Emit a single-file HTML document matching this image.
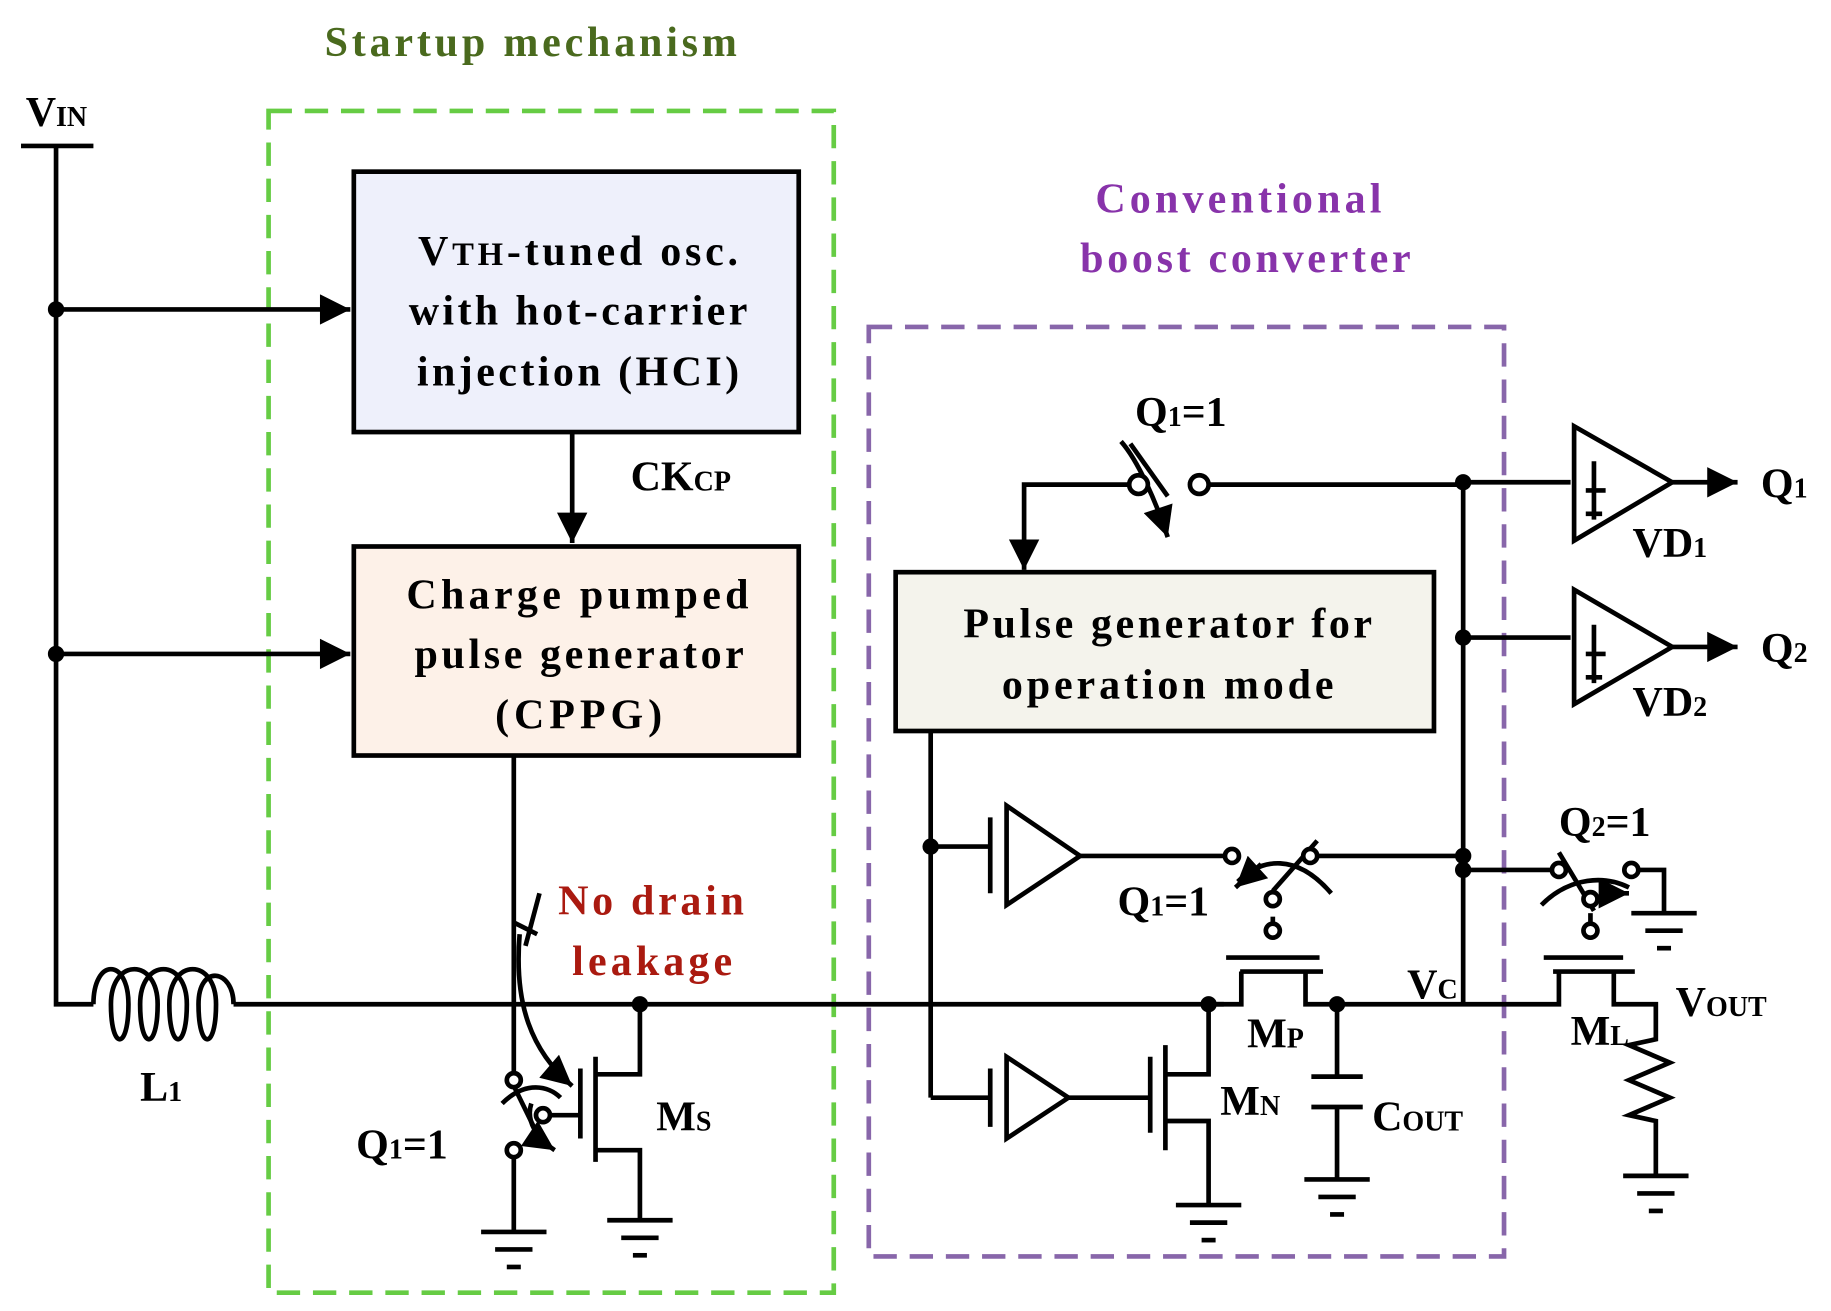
<!DOCTYPE html>
<html><head><meta charset="utf-8"><style>html,body{margin:0;padding:0;background:#fff}svg{display:block}</style></head><body>
<svg width="1831" height="1311" viewBox="0 0 1568 1122.7" preserveAspectRatio="none" xmlns="http://www.w3.org/2000/svg" font-family="Liberation Serif, serif" font-weight="bold">
<defs>
<marker id="b" viewBox="0 0 10 10" markerWidth="30" markerHeight="26" refX="10" refY="5" orient="auto" markerUnits="userSpaceOnUse"><path d="M0,0 L10,5 L0,10z" fill="#000"/></marker>
<g id="g" fill="none" stroke="#000" stroke-width="4"><line x1="-28" y1="0" x2="28" y2="0"/><line x1="-16" y1="15" x2="16" y2="15"/><line x1="-6" y1="30" x2="6" y2="30"/></g>
</defs>
<g fill="none" stroke="#000" stroke-width="4">
<rect x="230" y="95" width="484" height="1012" stroke="#66cc44" stroke-dasharray="20 11"/>
<rect x="744" y="280" width="544" height="796" stroke="#8866aa" stroke-dasharray="20 11"/>
<line x1="18" y1="125" x2="80" y2="125"/>
<polyline points="48,125 48,860 80,860"/>
<line x1="48" y1="265" x2="300" y2="265" marker-end="url(#b)"/>
<line x1="48" y1="560" x2="300" y2="560" marker-end="url(#b)"/>
<rect x="303" y="147" width="381" height="223" fill="#eef0fb"/>
<rect x="303" y="468" width="381" height="179" fill="#fdf1e8"/>
<rect x="767" y="490" width="461" height="136" fill="#f4f3ec"/>
<line x1="490" y1="370" x2="490" y2="465" marker-end="url(#b)"/>
<path d="M80,860 C80,820 110,820 110,860 C110,900 95,900 95,860 C95,820 135,820 135,860 C135,900 120,900 120,860 C120,820 160,820 160,860 C160,900 145,900 145,860 C145,820 185,820 185,860 C185,900 170,900 170,860 C170,825 200,830 200,860"/>
<line x1="200" y1="860" x2="1048" y2="860"/>
<line x1="440" y1="647" x2="440" y2="920"/>
<path d="M462,765 L450,810 M440,790 L460,800"/>
<path d="M445,800 C440,860 455,900 490,930" marker-end="url(#b)"/>
<line x1="497" y1="915" x2="497" y2="975"/>
<line x1="510" y1="905" x2="510" y2="995"/>
<polyline points="510,920 548,920 548,860"/>
<polyline points="510,985 548,985 548,1045"/>
<line x1="470" y1="955" x2="497" y2="955"/>
<line x1="440" y1="930" x2="462" y2="975"/>
<path d="M430,945 C450,925 470,930 480,940"/>
<path d="M455,945 C450,960 460,975 475,985" marker-end="url(#b)"/>
<line x1="440" y1="990" x2="440" y2="1055"/>
<polyline points="975,415 877,415 877,488" marker-end="url(#b)"/>
<line x1="1027" y1="415" x2="1253" y2="415"/>
<line x1="968" y1="380" x2="1000" y2="425"/>
<path d="M960,378 C975,395 990,430 1000,460" marker-end="url(#b)"/>
<line x1="1253" y1="415" x2="1253" y2="860"/>
<line x1="1253" y1="413" x2="1345" y2="413"/>
<line x1="1253" y1="546" x2="1345" y2="546"/>
<polygon points="1348,365 1348,463 1432,413"/>
<polygon points="1348,505 1348,603 1432,554"/>
<path d="M1365,395 V445 M1358,420 H1375 M1358,440 H1372 M1365,535 V585 M1358,560 H1375 M1358,580 H1372"/>
<line x1="1432" y1="413" x2="1488" y2="413" marker-end="url(#b)"/>
<line x1="1432" y1="554" x2="1488" y2="554" marker-end="url(#b)"/>
<line x1="797" y1="626" x2="797" y2="940"/>
<line x1="797" y1="725" x2="848" y2="725"/>
<line x1="797" y1="940" x2="848" y2="940"/>
<path d="M848,700 V765 M862,690 V775 L925,733 Z"/>
<path d="M848,915 V965 M862,905 V975 L915,940 Z"/>
<line x1="925" y1="733" x2="1053" y2="733"/>
<line x1="1127" y1="733" x2="1253" y2="733"/>
<line x1="915" y1="940" x2="985" y2="940"/>
<line x1="1090" y1="763" x2="1128" y2="720"/>
<path d="M1140,765 C1110,730 1080,735 1060,755" />
<path d="M1080,740 L1058,760" marker-end="url(#b)"/>
<line x1="1090" y1="785" x2="1090" y2="795"/>
<line x1="1050" y1="820" x2="1130" y2="820"/>
<line x1="1062" y1="832" x2="1133" y2="832"/>
<polyline points="1035,860 1063,860 1063,832"/>
<polyline points="1118,832 1118,860 1253,860 1335,860 1335,832"/>
<line x1="985" y1="905" x2="985" y2="970"/>
<line x1="998" y1="895" x2="998" y2="985"/>
<polyline points="998,920 1035,920 1035,860"/>
<polyline points="998,960 1035,960 1035,1032"/>
<line x1="1145" y1="860" x2="1145" y2="922"/>
<line x1="1123" y1="922" x2="1167" y2="922"/>
<line x1="1123" y1="948" x2="1167" y2="948"/>
<line x1="1145" y1="948" x2="1145" y2="1010"/>
<line x1="1253" y1="745" x2="1330" y2="745"/>
<polyline points="1403,745 1425,745 1425,782"/>
<line x1="1335" y1="730" x2="1365" y2="780"/>
<path d="M1320,775 C1345,750 1375,750 1395,760"/>
<path d="M1370,765 L1395,765" marker-end="url(#b)"/>
<line x1="1362" y1="782" x2="1362" y2="790"/>
<line x1="1322" y1="820" x2="1390" y2="820"/>
<line x1="1330" y1="832" x2="1400" y2="832"/>
<polyline points="1382,832 1382,860 1418,860 1418,890 1395,895 1430,910 1395,925 1430,940 1395,955 1418,960 1418,1007"/>
</g>
<use href="#g" x="440" y="1055"/>
<use href="#g" x="548" y="1045"/>
<use href="#g" x="1035" y="1032"/>
<use href="#g" x="1145" y="1010"/>
<use href="#g" x="1425" y="782"/>
<use href="#g" x="1418" y="1007"/>
<g fill="#000">
<circle cx="48" cy="265" r="7"/><circle cx="48" cy="560" r="7"/><circle cx="548" cy="860" r="7"/>
<circle cx="1253" cy="413" r="7"/><circle cx="1253" cy="546" r="7"/><circle cx="1253" cy="733" r="7"/><circle cx="1253" cy="745" r="7"/>
<circle cx="797" cy="725" r="7"/><circle cx="1035" cy="860" r="7"/><circle cx="1145" cy="860" r="7"/>
</g>
<g fill="#fff" stroke="#000" stroke-width="4">
<circle cx="975" cy="415" r="8"/><circle cx="1027" cy="415" r="8"/>
<circle cx="440" cy="925" r="6"/><circle cx="440" cy="985" r="6"/><circle cx="465" cy="955" r="6"/>
<circle cx="1055" cy="733" r="6"/><circle cx="1122" cy="733" r="6"/><circle cx="1090" cy="770" r="6"/><circle cx="1090" cy="797" r="6"/>
<circle cx="1335" cy="745" r="6"/><circle cx="1397" cy="745" r="6"/><circle cx="1362" cy="770" r="6"/><circle cx="1362" cy="797" r="6"/>
</g>
<g font-size="36" lengthAdjust="spacing">
<text x="278" y="48" textLength="353" fill="#4a6a1e">Startup mechanism</text>
<text x="938" y="182" textLength="245" fill="#8833aa">Conventional</text>
<text x="925" y="233" textLength="283" fill="#8833aa">boost converter</text>
<text x="478" y="783" textLength="159" fill="#aa1a10">No drain</text>
<text x="490" y="835" textLength="137" fill="#aa1a10">leakage</text>
<text x="358" y="227" textLength="274">V<tspan font-size="28">TH</tspan>-tuned osc.</text>
<text x="350" y="278" textLength="290">with hot-carrier</text>
<text x="357" y="330" textLength="276">injection (HCI)</text>
<text x="348" y="521" textLength="293">Charge pumped</text>
<text x="355" y="572" textLength="282">pulse generator</text>
<text x="424" y="624" textLength="143">(CPPG)</text>
<text x="825" y="546" textLength="350">Pulse generator for</text>
<text x="858" y="598" textLength="284">operation mode</text>
<text x="540" y="420">CK<tspan font-size="24">CP</tspan></text>
<text x="22" y="108">V<tspan font-size="24">IN</tspan></text>
<text x="120" y="943">L<tspan font-size="24">1</tspan></text>
<text x="305" y="992">Q<tspan font-size="24">1</tspan>=1</text>
<text x="562" y="968">M<tspan font-size="24">S</tspan></text>
<text x="972" y="365">Q<tspan font-size="24">1</tspan>=1</text>
<text x="957" y="784">Q<tspan font-size="24">1</tspan>=1</text>
<text x="1335" y="716">Q<tspan font-size="24">2</tspan>=1</text>
<text x="1508" y="426">Q<tspan font-size="24">1</tspan></text>
<text x="1508" y="567">Q<tspan font-size="24">2</tspan></text>
<text x="1398" y="477">VD<tspan font-size="24">1</tspan></text>
<text x="1398" y="613">VD<tspan font-size="24">2</tspan></text>
<text x="1068" y="897">M<tspan font-size="24">P</tspan></text>
<text x="1045" y="955">M<tspan font-size="24">N</tspan></text>
<text x="1175" y="968">C<tspan font-size="24">OUT</tspan></text>
<text x="1205" y="855">V<tspan font-size="24">C</tspan></text>
<text x="1345" y="895">M<tspan font-size="24">L</tspan></text>
<text x="1435" y="870">V<tspan font-size="24">OUT</tspan></text>
</g>
</svg>
</body></html>
